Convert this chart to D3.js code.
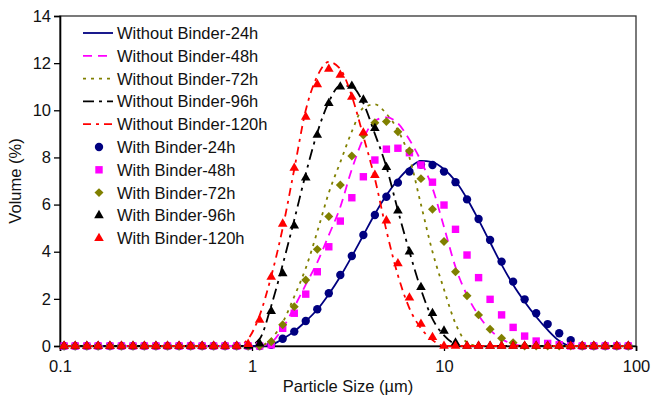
<!DOCTYPE html>
<html>
<head>
<meta charset="utf-8">
<script src="https://cdn.jsdelivr.net/npm/d3@7"></script>
<style>
body { margin: 0; background: #fff; }
text { font-family: Arial, "Liberation Sans", sans-serif; fill: #111; }
</style>
</head>
<body>
<svg id="chart" width="652" height="399"></svg>
<script>
// particle size classes (um)
let sizes = [
  0.105, 0.120, 0.138, 0.158, 0.182, 0.209, 0.240, 0.275, 0.316, 0.363,
  0.417, 0.479, 0.550, 0.631, 0.724, 0.832, 0.955, 1.096, 1.259, 1.445,
  1.660, 1.905, 2.188, 2.512, 2.884, 3.311, 3.802, 4.365, 5.012, 5.754,
  6.607, 7.586, 8.710, 10.00, 11.48, 13.18, 15.14, 17.38, 19.95, 22.91,
  26.30, 30.20, 34.67, 39.81, 45.71, 52.48, 60.26, 69.18, 79.43, 91.20
];

let withoutB24 = [
  0, 0, 0, 0, 0, 0, 0, 0, 0, 0,
  0, 0, 0, 0, 0, 0, 0, 0, 0.05, 0.3,
  0.62, 1.05, 1.55, 2.2, 2.95, 3.8, 4.7, 5.6, 6.4, 7.05,
  7.55, 7.85, 7.8, 7.5, 7.0, 6.25, 5.35, 4.4, 3.45, 2.6,
  1.88, 1.24, 0.68, 0.22, 0, 0, 0, 0, 0, 0
];
let withoutB48 = [
  0, 0, 0, 0, 0, 0, 0, 0, 0, 0,
  0, 0, 0, 0, 0, 0, 0, 0, 0.15, 0.75,
  1.65, 2.6, 3.55, 4.7, 5.9, 7.5, 8.8, 9.55, 9.7, 9.45,
  8.75, 7.85, 6.7, 5.05, 3.35, 2.15, 1.3, 0.68, 0.3, 0.08,
  0, 0, 0, 0, 0, 0, 0, 0, 0, 0
];
let withoutB72 = [
  0, 0, 0, 0, 0, 0, 0, 0, 0, 0,
  0, 0, 0, 0, 0, 0, 0, 0, 0.3, 1.0,
  2.1, 3.3, 4.85, 6.5, 7.8, 9.1, 10.1, 10.25, 9.85, 9.15,
  8.0, 6.0, 4.0, 2.4, 0.95, 0.15, 0, 0, 0, 0,
  0, 0, 0, 0, 0, 0, 0, 0, 0, 0
];
let withoutB96 = [
  0, 0, 0, 0, 0, 0, 0, 0, 0, 0,
  0, 0, 0, 0, 0, 0, 0, 0.3, 1.7, 3.45,
  5.35, 7.3, 9.05, 10.35, 11.05, 11.0, 10.3, 9.0, 7.6, 5.75,
  4.0, 2.4, 1.15, 0.45, 0.08, 0, 0, 0, 0, 0,
  0, 0, 0, 0, 0, 0, 0, 0, 0, 0
];
let withoutB120 = [
  0, 0, 0, 0, 0, 0, 0, 0, 0, 0,
  0, 0, 0, 0, 0, 0, 0.3, 1.3, 2.95, 5.0,
  7.5, 10.0, 11.45, 12.05, 11.75, 10.6, 8.9, 7.1, 4.9, 3.0,
  1.6, 0.75, 0.25, 0, 0, 0, 0, 0, 0, 0,
  0, 0, 0, 0, 0, 0, 0, 0, 0, 0
];

let withB24 = [
  0, 0, 0, 0, 0, 0, 0, 0, 0, 0,
  0, 0, 0, 0, 0, 0, 0, 0, 0.05, 0.31,
  0.61, 1.06, 1.56, 2.24, 3.01, 3.82, 4.71, 5.56, 6.33, 6.93,
  7.4, 7.7, 7.68, 7.4, 6.95, 6.22, 5.39, 4.5, 3.58, 2.73,
  1.98, 1.39, 0.93, 0.54, 0.25, 0, 0, 0, 0, 0
];
let withB48 = [
  0, 0, 0, 0, 0, 0, 0, 0, 0, 0,
  0, 0, 0, 0, 0, 0, 0, 0, 0.05, 0.75,
  1.39, 2.2, 3.15, 4.21, 5.3, 6.29, 7.18, 7.89, 8.35, 8.39,
  8.2, 7.68, 6.95, 5.98, 4.95, 3.86, 2.9, 1.98, 1.32, 0.79,
  0.42, 0.21, 0.11, 0.05, 0, 0, 0, 0, 0, 0
];
let withB72 = [
  0, 0, 0, 0, 0, 0, 0, 0, 0, 0,
  0, 0, 0, 0, 0, 0, 0, 0, 0.18, 0.9,
  1.67, 2.8, 4.1, 5.49, 6.83, 8.06, 8.95, 9.47, 9.52, 9.09,
  8.27, 7.1, 5.8, 4.43, 3.15, 2.13, 1.32, 0.71, 0.33, 0.14,
  0, 0, 0, 0, 0, 0, 0, 0, 0, 0
];
let withB96 = [
  0, 0, 0, 0, 0, 0, 0, 0, 0, 0,
  0, 0, 0, 0, 0, 0, 0, 0.1, 1.48, 3.08,
  5.1, 7.14, 8.95, 10.3, 11.0, 11.03, 10.44, 9.24, 7.58, 5.74,
  4.0, 2.49, 1.39, 0.64, 0.14, 0, 0, 0, 0, 0,
  0, 0, 0, 0, 0, 0, 0, 0, 0, 0
];
let withB120 = [
  0, 0, 0, 0, 0, 0, 0, 0, 0, 0,
  0, 0, 0, 0, 0, 0, 0.08, 1.1, 2.93, 5.18,
  7.55, 9.72, 11.1, 11.75, 11.5, 10.56, 9.05, 7.25, 5.32, 3.5,
  2.05, 0.93, 0.37, 0, 0, 0, 0, 0, 0, 0,
  0, 0, 0, 0, 0, 0, 0, 0, 0, 0
];

let xTicks = [0.1, 1, 10, 100];
let yTicks = [0, 2, 4, 6, 8, 10, 12, 14];

let lineSeries = [
  {name: "Without Binder-24h", values: withoutB24, color: "#000080", dash: null},
  {name: "Without Binder-48h", values: withoutB48, color: "#ff00ff", dash: "9,6"},
  {name: "Without Binder-72h", values: withoutB72, color: "#808000", dash: "3,5"},
  {name: "Without Binder-96h", values: withoutB96, color: "#000000", dash: "11,5,3,5"},
  {name: "Without Binder-120h", values: withoutB120, color: "#ff0000", dash: "8,5,3,5"}
];
// the diamond is a square turned by 45 degrees
let pointSeries = [
  {name: "With Binder-24h", values: withB24, color: "#000080", symbol: d3.symbolCircle, size: 55, turn: 0},
  {name: "With Binder-48h", values: withB48, color: "#ff00ff", symbol: d3.symbolSquare, size: 55, turn: 0},
  {name: "With Binder-72h", values: withB72, color: "#808000", symbol: d3.symbolSquare, size: 40, turn: 45},
  {name: "With Binder-96h", values: withB96, color: "#000000", symbol: d3.symbolTriangle, size: 40, turn: 0},
  {name: "With Binder-120h", values: withB120, color: "#ff0000", symbol: d3.symbolTriangle, size: 40, turn: 0}
];

let svg = d3.select("#chart");
let plotLeft = 60, plotRight = 636, plotTop = 16, plotBottom = 346;
let fontSize = 16.5;

let x = d3.scaleLog().domain([0.1, 100]).range([plotLeft, plotRight]);
let y = d3.scaleLinear().domain([0, 14]).range([plotBottom, plotTop]);

// frame
svg.append("rect")
    .attr("x", plotLeft).attr("y", plotTop)
    .attr("width", plotRight - plotLeft).attr("height", plotBottom - plotTop)
    .attr("fill", "none")
    .attr("stroke", "#333")
    .attr("stroke-width", 1.3);

let yAxis = svg.append("g")
    .attr("transform", "translate(" + plotLeft + ",0)")
    .call(d3.axisLeft(y).tickValues(yTicks).tickSize(6).tickPadding(3));
let xAxis = svg.append("g")
    .attr("transform", "translate(0," + plotBottom + ")")
    .call(d3.axisBottom(x).tickValues(xTicks).tickFormat((d) => String(d)).tickSize(5).tickPadding(9));

[xAxis, yAxis].forEach((g) => {
    g.select(".domain").attr("stroke", "#000").attr("stroke-width", 1.6);
    g.selectAll(".tick line").attr("stroke", "#000").attr("stroke-width", 1.3);
    g.selectAll(".tick text").attr("font-size", fontSize).attr("fill", "#111");
});

svg.append("text")
    .attr("x", 348).attr("y", 392)
    .attr("text-anchor", "middle")
    .attr("font-size", fontSize)
    .text("Particle Size (\u00b5m)");

svg.append("text")
    .attr("transform", "translate(21,181) rotate(-90)")
    .attr("text-anchor", "middle")
    .attr("font-size", fontSize)
    .text("Volume (%)");

let line = d3.line()
    .x((d, i) => x(sizes[i]))
    .y((d) => y(d))
    .curve(d3.curveMonotoneX);

svg.append("g").selectAll("path")
    .data(lineSeries)
    .enter().append("path")
    .attr("d", (d) => line(d.values))
    .attr("fill", "none")
    .attr("stroke", (d) => d.color)
    .attr("stroke-width", 1.8)
    .attr("stroke-dasharray", (d) => d.dash);

pointSeries.forEach((s) => {
    svg.append("g").selectAll("path")
        .data(s.values)
        .enter().append("path")
        .attr("transform", (d, i) => "translate(" + x(sizes[i]) + "," + y(d) + ") rotate(" + s.turn + ")")
        .attr("d", d3.symbol().type(s.symbol).size(s.size))
        .attr("fill", s.color);
});

// legend
let legend = svg.append("g");
let rowY = (i) => 33 + i * 22.8;

lineSeries.forEach((s, i) => {
    legend.append("line")
        .attr("x1", 83).attr("x2", 113)
        .attr("y1", rowY(i)).attr("y2", rowY(i))
        .attr("stroke", s.color)
        .attr("stroke-width", 1.8)
        .attr("stroke-dasharray", s.dash);
    legend.append("text")
        .attr("x", 117).attr("y", rowY(i) + 6)
        .attr("font-size", fontSize)
        .text(s.name);
});
pointSeries.forEach((s, i) => {
    let yy = rowY(i + 5);
    legend.append("path")
        .attr("transform", "translate(99," + yy + ") rotate(" + s.turn + ")")
        .attr("d", d3.symbol().type(s.symbol).size(s.size))
        .attr("fill", s.color);
    legend.append("text")
        .attr("x", 117).attr("y", yy + 6)
        .attr("font-size", fontSize)
        .text(s.name);
});
</script>
</body>
</html>
